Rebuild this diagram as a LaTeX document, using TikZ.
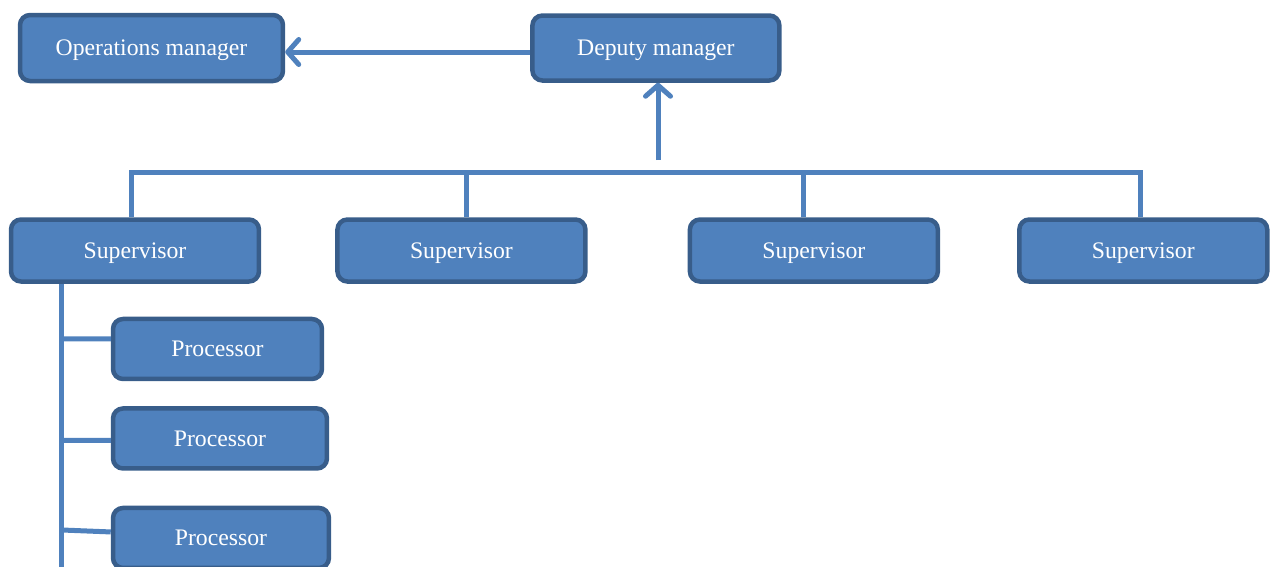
\documentclass[tikz,border=0pt]{standalone}
\usepackage{fontspec}
\setmainfont{Liberation Serif}
\usetikzlibrary{positioning,arrows.meta}
\definecolor{boxfill}{HTML}{4F81BD}
\definecolor{boxline}{HTML}{385D8A}

\begin{document}
\begin{tikzpicture}[x=0.02cm,y=-0.02cm,
		font=\fontsize{13.5}{16}\selectfont,
		box/.style={draw=boxline, fill=boxfill, text=white, text depth=0pt,
			line width=0.09cm, rounded corners=0.2cm, inner sep=0pt},
		link/.style={draw=boxfill, line width=0.1cm},
		arrow/.style={link, -{Straight Barb[length=0.22cm,width=0.5cm,round]}}]

		\useasboundingbox (0,0) rectangle (1270,566);

		\node[box,
			minimum width=5.26cm,
			minimum height=1.32cm
		] (ops) at (151.5,48) {Operations manager};

		\node[box,
			right=4.9cm of ops,
			minimum width=4.94cm,
			minimum height=1.3cm
		] (deputy) {Deputy manager};

		\node[box,
			minimum width=4.96cm,
			minimum height=1.24cm
		] (sup1) at (135,250.5) {Supervisor};

		\node[box,
			right=1.48cm of sup1,
			minimum width=4.96cm,
			minimum height=1.24cm
		] (sup2) {Supervisor};

		\node[box,
			right=2.0cm of sup2,
			minimum width=4.96cm,
			minimum height=1.24cm
		] (sup3) {Supervisor};

		\node[box,
			right=1.54cm of sup3,
			minimum width=4.96cm,
			minimum height=1.24cm
		] (sup4) {Supervisor};

		\node[box,
			below right=0.66cm and 2.04cm of sup1.south west,
			minimum width=4.18cm,
			minimum height=1.2cm
		] (proc1) {Processor};

		\node[box,
			below right=0.5cm and 0cm of proc1.south west,
			minimum width=4.28cm,
			minimum height=1.2cm
		] (proc2) {Processor};

		\node[box,
			below right=0.7cm and 0cm of proc2.south west,
			minimum width=4.32cm,
			minimum height=1.2cm
		] (proc3) {Processor};

		\coordinate (up) at (658,160);
		\coordinate (bus) at (658,172);

		% upward reporting
		\draw[arrow] ([yshift=-0.08cm]deputy.west) -- ([yshift=-0.08cm]ops.east);
		\draw[arrow] (up) -- (up |- deputy.south);

		% supervisors
		\draw[link] ([xshift=-0.08cm]sup1.north) |- (bus) -| ([xshift=-0.06cm]sup4.north);
		\foreach \s/\dx in {sup2/0.1cm, sup3/-0.2cm}
			\draw[link] ([xshift=\dx]\s.north) |- (bus);

		% processors
		\draw[link] ([xshift=-1.48cm]sup1.south) -- ++(0,320) coordinate (trunk);
		\draw[link] (trunk |- proc1.west) ++(0,-10) -- ([yshift=0.2cm]proc1.west);
		\draw[link] (trunk |- proc2.west) ++(0,2) -- ([yshift=-0.04cm]proc2.west);
		\draw[link] (trunk |- proc3.west) ++(0,-8) -- ([yshift=0.12cm]proc3.west);

	\end{tikzpicture}
\end{document}
